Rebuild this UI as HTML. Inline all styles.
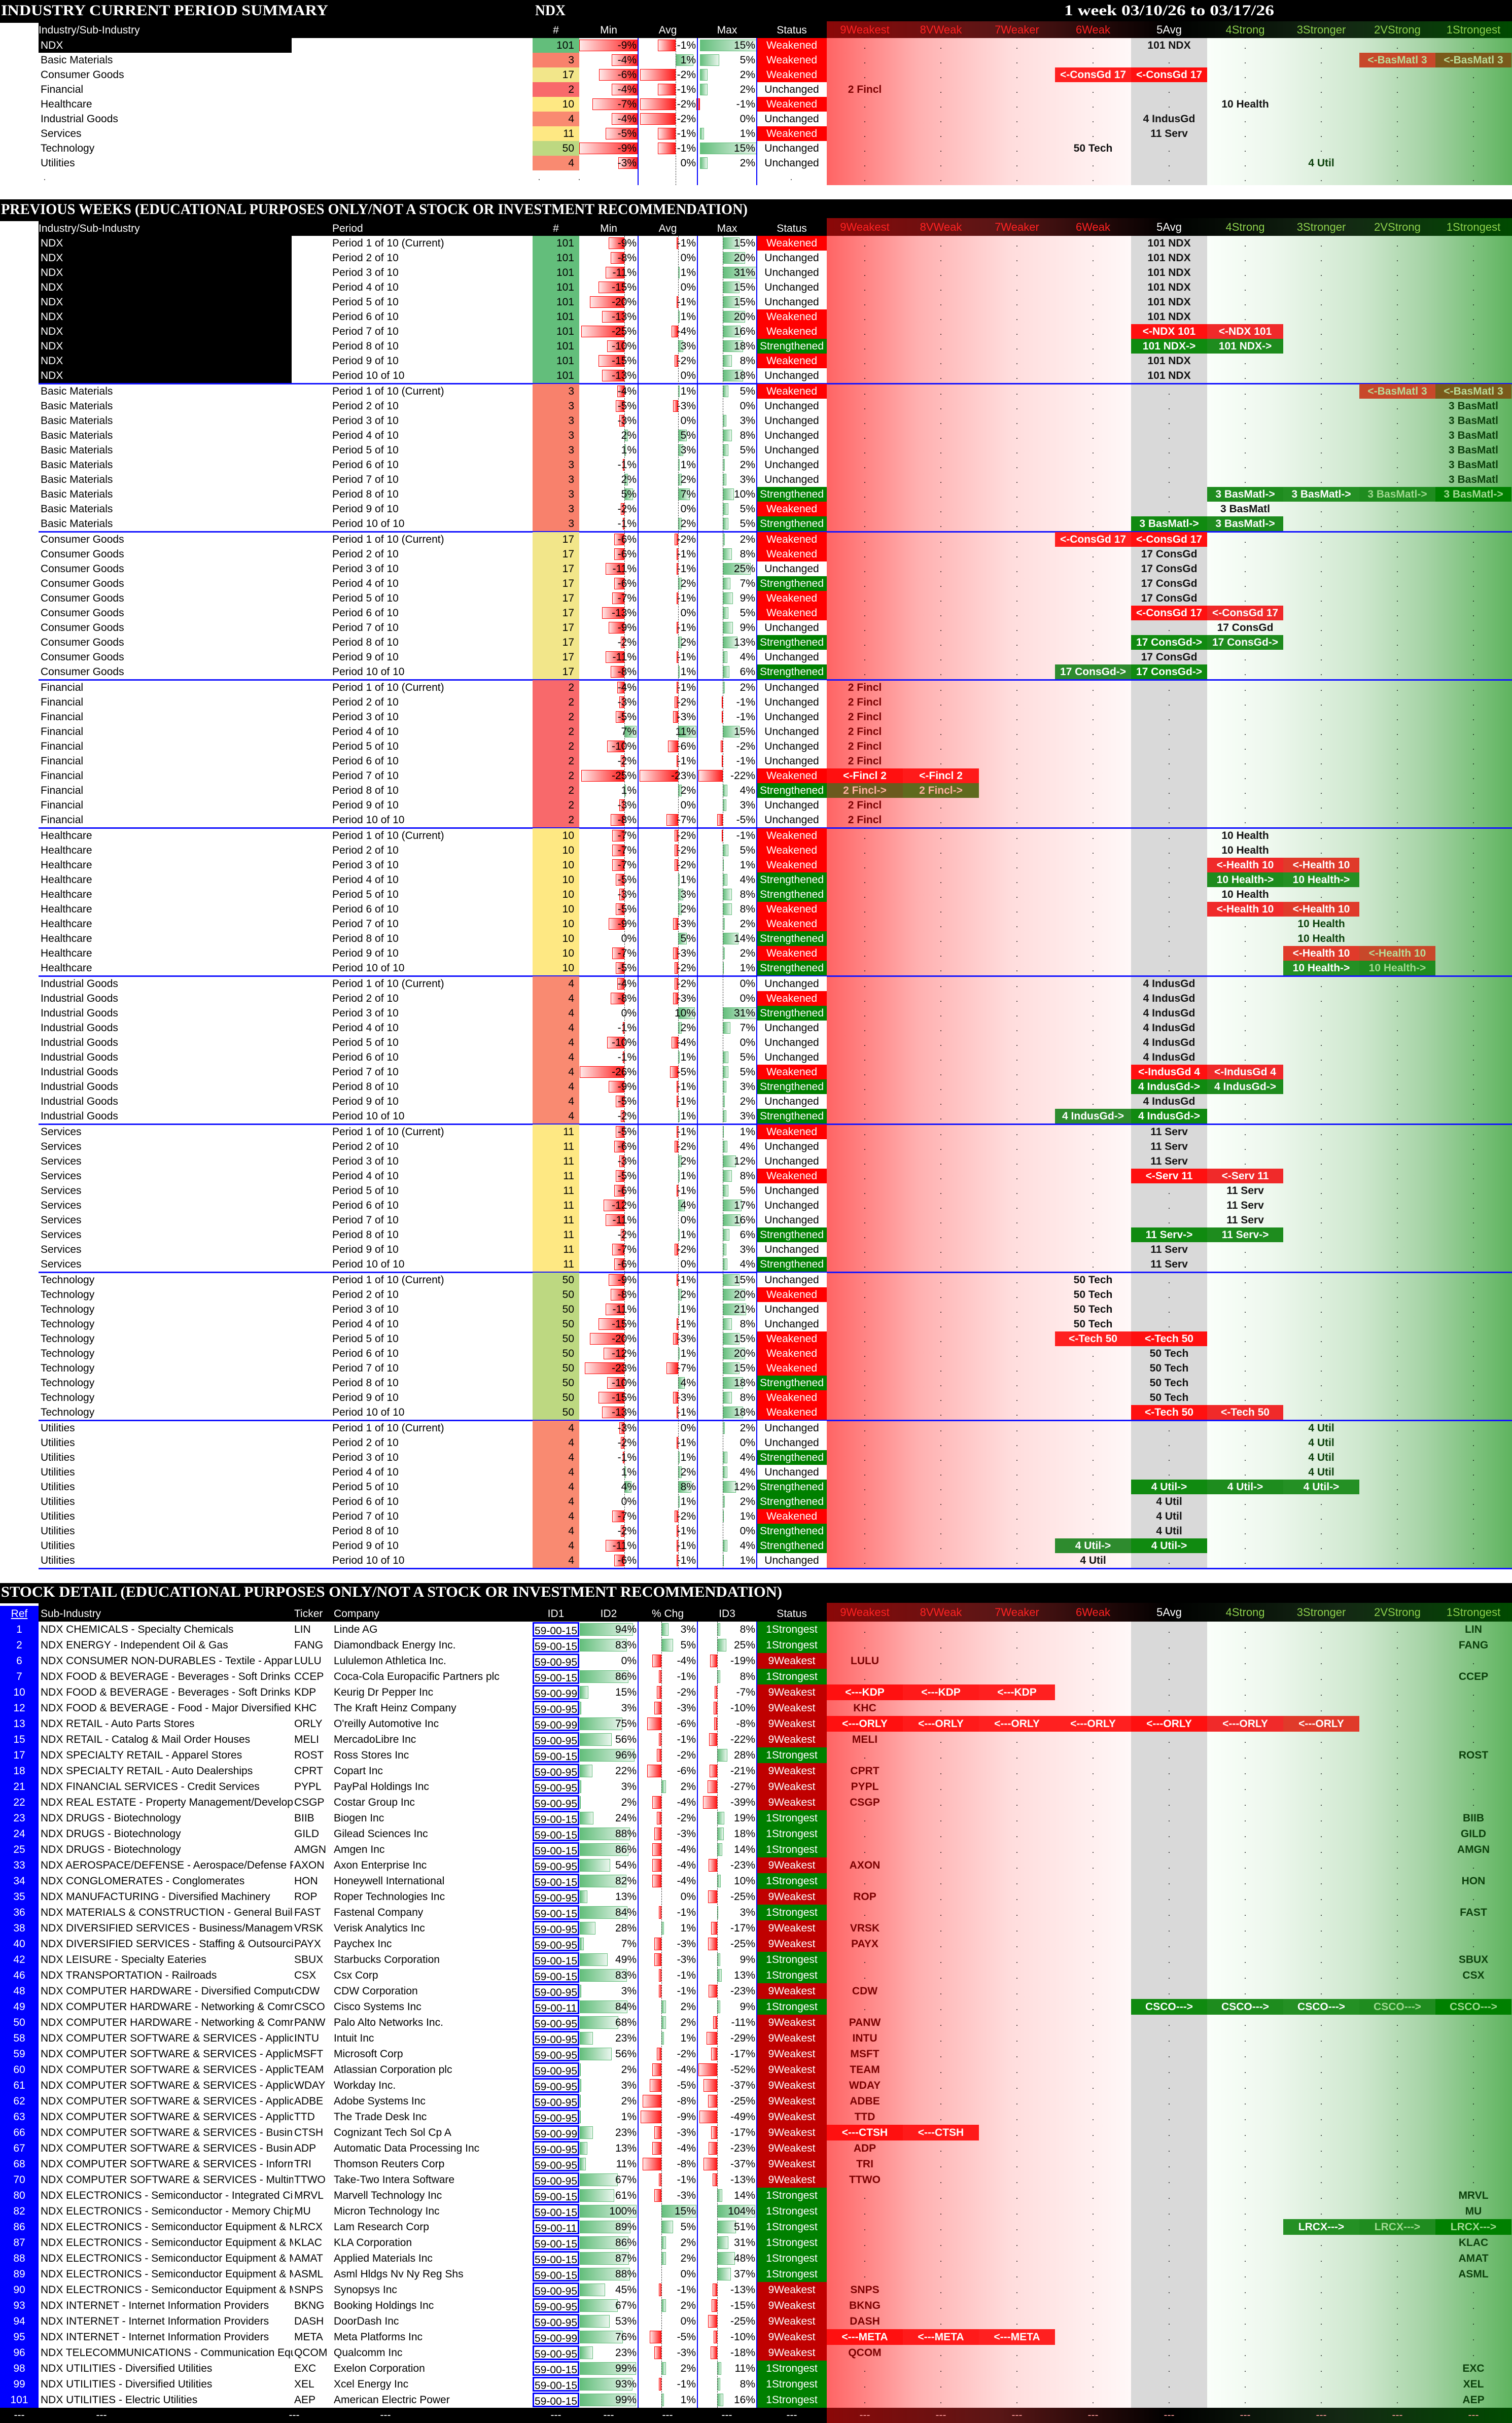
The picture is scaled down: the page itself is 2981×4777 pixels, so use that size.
<!DOCTYPE html>
<html><head><meta charset="utf-8">
<style>
html,body{margin:0;padding:0;background:#fff;}
#root{position:relative;width:2981px;height:4777px;overflow:hidden;background:#fff;font-family:"Liberation Sans Narrow","Liberation Sans",sans-serif;font-size:21px;color:#000;}
#root div{box-sizing:border-box;}
.title{position:absolute;font-family:"Liberation Serif",serif;font-weight:bold;color:#fff;font-size:30px;white-space:nowrap;transform-origin:0 50%;}
</style></head>
<body>
<div id="root">
  <div style="position:absolute;left:0;top:0;width:2981px;height:45px;background:#000"></div>
  <div style="position:absolute;left:76px;top:45px;width:1554px;height:30px;background:#000"></div>
  <div class="title" id="t1" style="left:2px;top:4px">INDUSTRY CURRENT PERIOD SUMMARY</div>
  <div class="title" id="t1b" style="left:1055px;top:4px">NDX</div>
  <div class="title" id="t1c" style="left:2098px;top:4px">1 week 03/10/26 to 03/17/26</div>

  <div style="position:absolute;left:0;top:393px;width:2981px;height:43px;background:#000"></div>
  <div style="position:absolute;left:76px;top:436px;width:1554px;height:29px;background:#000"></div>
  <div class="title" id="t2" style="left:2px;top:396px">PREVIOUS WEEKS (EDUCATIONAL PURPOSES ONLY/NOT A STOCK OR INVESTMENT RECOMMENDATION)</div>

  <div style="position:absolute;left:0;top:3121px;width:2981px;height:40px;background:#000"></div>
  <div style="position:absolute;left:76px;top:3160px;width:1554px;height:37px;background:#000"></div>
  <div class="title" id="t3" style="left:2px;top:3122px">STOCK DETAIL (EDUCATIONAL PURPOSES ONLY/NOT A STOCK OR INVESTMENT RECOMMENDATION)</div>
</div>
<script>
// ===== Section 2 / Summary data =====
const groupNames = ["NDX","Basic Materials","Consumer Goods","Financial","Healthcare","Industrial Goods","Services","Technology","Utilities"];
const groupShort = ["NDX","BasMatl","ConsGd","Fincl","Health","IndusGd","Serv","Tech","Util"];
const groupCounts = [101,3,17,2,10,4,11,50,4];
const countColors = ["#63be7b","#f8816c","#f2e68a","#f8696b","#fee883","#f98a71","#fee883","#bdd881","#f98a71"];
const minVals = [
 [-9,-8,-11,-15,-20,-13,-25,-10,-15,-13],
 [-4,-5,-3,2,1,-1,2,5,-2,-1],
 [-6,-6,-11,-6,-7,-13,-9,-2,-11,-8],
 [-4,-3,-5,7,-10,-2,-25,1,-3,-8],
 [-7,-7,-7,-5,-3,-5,-9,0,-7,-5],
 [-4,-8,0,-1,-10,-1,-26,-9,-5,-2],
 [-5,-6,-3,-5,-6,-12,-11,-2,-7,-6],
 [-9,-8,-11,-15,-20,-12,-23,-10,-15,-13],
 [-3,-2,-1,1,4,0,-7,-2,-11,-6]];
const avgVals = [
 [-1,0,1,0,-1,1,-4,3,-2,0],
 [1,-3,0,5,3,1,2,7,0,2],
 [-2,-1,-1,2,-1,0,-1,2,-1,1],
 [-1,-2,-3,11,-6,-1,-23,2,0,-7],
 [-2,-2,-2,1,3,2,-3,5,-3,-2],
 [-2,-3,10,2,-4,1,-5,-1,-1,1],
 [-1,-2,2,1,-1,4,0,1,-2,0],
 [-1,2,1,-1,-3,1,-7,4,-3,-1],
 [0,-1,1,2,8,1,-2,-1,-1,-1]];
const maxVals = [
 [15,20,31,15,15,20,16,18,8,18],
 [5,0,3,8,5,2,3,10,5,5],
 [2,8,25,7,9,5,9,13,4,6],
 [2,-1,-1,15,-2,-1,-22,4,3,-5],
 [-1,5,1,4,8,8,2,14,2,1],
 [0,0,31,7,0,5,5,3,2,3],
 [1,4,12,8,5,17,16,6,3,4],
 [15,20,21,8,15,20,15,18,8,18],
 [2,0,4,4,12,2,1,0,4,1]];
const statusVals = [
 "WUUUUWWSWU","WUUUUUUSWS","WWUSWWUSUS","UUUUUUWSUU","WWWSSWWSWS",
 "UWSUUUWSUS","WUUWUUUSUS","UWUUWWWSWW","UUSUSSWSSU"];
const positions = [
 [4,4,4,4,4,4,[4,5,'L'],[4,5,'R'],4,4],
 [[7,8,'L'],8,8,8,8,8,8,[5,8,'R'],5,[4,5,'R']],
 [[3,4,'L'],4,4,4,4,[4,5,'L'],5,[4,5,'R'],4,[3,4,'R']],
 [0,0,0,0,0,0,[0,1,'L'],[0,1,'R'],0,0],
 [5,5,[5,6,'L'],[5,6,'R'],5,[5,6,'L'],6,6,[6,7,'L'],[6,7,'R']],
 [4,4,4,4,4,4,[4,5,'L'],[4,5,'R'],4,[3,4,'R']],
 [4,4,4,[4,5,'L'],5,5,5,[4,5,'R'],4,4],
 [3,3,3,3,[3,4,'L'],4,4,4,4,[4,5,'L']],
 [6,6,6,6,[4,6,'R'],4,4,4,[3,4,'R'],3]];
const rankHeaders = ["9Weakest","8VWeak","7Weaker","6Weak","5Avg","4Strong","3Stronger","2VStrong","1Strongest"];

// ===== Stock detail data =====
const refs = [1,2,6,7,10,12,13,15,17,18,21,22,23,24,25,33,34,35,36,38,40,42,46,48,49,50,58,59,60,61,62,63,66,67,68,70,80,82,86,87,88,89,90,93,94,95,96,98,99,101];
const subInds = ["NDX CHEMICALS - Specialty Chemicals","NDX ENERGY - Independent Oil & Gas","NDX CONSUMER NON-DURABLES - Textile - Apparel Clothing","NDX FOOD & BEVERAGE - Beverages - Soft Drinks","NDX FOOD & BEVERAGE - Beverages - Soft Drinks","NDX FOOD & BEVERAGE - Food - Major Diversified","NDX RETAIL - Auto Parts Stores","NDX RETAIL - Catalog & Mail Order Houses","NDX SPECIALTY RETAIL - Apparel Stores","NDX SPECIALTY RETAIL - Auto Dealerships","NDX FINANCIAL SERVICES - Credit Services","NDX REAL ESTATE - Property Management/Development","NDX DRUGS - Biotechnology","NDX DRUGS - Biotechnology","NDX DRUGS - Biotechnology","NDX AEROSPACE/DEFENSE - Aerospace/Defense Products","NDX CONGLOMERATES - Conglomerates","NDX MANUFACTURING - Diversified Machinery","NDX MATERIALS & CONSTRUCTION - General Building Materials","NDX DIVERSIFIED SERVICES - Business/Management Services","NDX DIVERSIFIED SERVICES - Staffing & Outsourcing Services","NDX LEISURE - Specialty Eateries","NDX TRANSPORTATION - Railroads","NDX COMPUTER HARDWARE - Diversified Computer Systems","NDX COMPUTER HARDWARE - Networking & Communication","NDX COMPUTER HARDWARE - Networking & Communication","NDX COMPUTER SOFTWARE & SERVICES - Application Software","NDX COMPUTER SOFTWARE & SERVICES - Application Software","NDX COMPUTER SOFTWARE & SERVICES - Application Software","NDX COMPUTER SOFTWARE & SERVICES - Application Software","NDX COMPUTER SOFTWARE & SERVICES - Application Software","NDX COMPUTER SOFTWARE & SERVICES - Application Software","NDX COMPUTER SOFTWARE & SERVICES - Business Software","NDX COMPUTER SOFTWARE & SERVICES - Business Software","NDX COMPUTER SOFTWARE & SERVICES - Information","NDX COMPUTER SOFTWARE & SERVICES - Multimedia & Graphics","NDX ELECTRONICS - Semiconductor - Integrated Circuits","NDX ELECTRONICS - Semiconductor - Memory Chips","NDX ELECTRONICS - Semiconductor Equipment & Materials","NDX ELECTRONICS - Semiconductor Equipment & Materials","NDX ELECTRONICS - Semiconductor Equipment & Materials","NDX ELECTRONICS - Semiconductor Equipment & Materials","NDX ELECTRONICS - Semiconductor Equipment & Materials","NDX INTERNET - Internet Information Providers","NDX INTERNET - Internet Information Providers","NDX INTERNET - Internet Information Providers","NDX TELECOMMUNICATIONS - Communication Equipment","NDX UTILITIES - Diversified Utilities","NDX UTILITIES - Diversified Utilities","NDX UTILITIES - Electric Utilities"];
const tickers = ["LIN","FANG","LULU","CCEP","KDP","KHC","ORLY","MELI","ROST","CPRT","PYPL","CSGP","BIIB","GILD","AMGN","AXON","HON","ROP","FAST","VRSK","PAYX","SBUX","CSX","CDW","CSCO","PANW","INTU","MSFT","TEAM","WDAY","ADBE","TTD","CTSH","ADP","TRI","TTWO","MRVL","MU","LRCX","KLAC","AMAT","ASML","SNPS","BKNG","DASH","META","QCOM","EXC","XEL","AEP"];
const companies = ["Linde AG","Diamondback Energy Inc.","Lululemon Athletica Inc.","Coca-Cola Europacific Partners plc","Keurig Dr Pepper Inc","The Kraft Heinz Company","O'reilly Automotive Inc","MercadoLibre Inc","Ross Stores Inc","Copart Inc","PayPal Holdings Inc","Costar Group Inc","Biogen Inc","Gilead Sciences Inc","Amgen Inc","Axon Enterprise Inc","Honeywell International","Roper Technologies Inc","Fastenal Company","Verisk Analytics Inc","Paychex Inc","Starbucks Corporation","Csx Corp","CDW Corporation","Cisco Systems Inc","Palo Alto Networks Inc.","Intuit Inc","Microsoft Corp","Atlassian Corporation plc","Workday Inc.","Adobe Systems Inc","The Trade Desk Inc","Cognizant Tech Sol Cp A","Automatic Data Processing Inc","Thomson Reuters Corp","Take-Two Intera Software","Marvell Technology Inc","Micron Technology Inc","Lam Research Corp","KLA Corporation","Applied Materials Inc","Asml Hldgs Nv Ny Reg Shs","Synopsys Inc","Booking Holdings Inc","DoorDash Inc","Meta Platforms Inc","Qualcomm Inc","Exelon Corporation","Xcel Energy Inc","American Electric Power"];
const id1Codes = ["15","15","95","15","99","95","99","95","15","95","95","95","15","15","15","95","15","95","15","95","95","15","15","95","11","95","95","95","95","95","95","95","99","95","95","95","15","15","11","15","15","15","95","95","95","99","95","15","15","15"];
const id2Vals = [94,83,0,86,15,3,75,56,96,22,3,2,24,88,86,54,82,13,84,28,7,49,83,3,84,68,23,56,2,3,2,1,23,13,11,67,61,100,89,86,87,88,45,67,53,76,23,99,93,99];
const chgVals = [3,5,-4,-1,-2,-3,-6,-1,-2,-6,2,-4,-2,-3,-4,-4,-4,0,-1,1,-3,-3,-1,-1,2,2,1,-2,-4,-5,-8,-9,-3,-4,-8,-1,-3,15,5,2,2,0,-1,2,0,-5,-3,2,-1,1];
const id3Vals = [8,25,-19,8,-7,-10,-8,-22,28,-21,-27,-39,19,18,14,-23,10,-25,3,-17,-25,9,13,-23,9,-11,-29,-17,-52,-37,-25,-49,-17,-23,-37,-13,14,104,51,31,48,37,-13,-15,-25,-10,-18,11,8,16];
const stockStatus = "SSWSWWWWSWWWSSSWSWSWWSSWSWWWWWWWWWWWSSSSSSWWWWWSSS";
const stockMoves = {KDP:[0,2,'L'],ORLY:[0,6,'L'],CTSH:[0,1,'L'],META:[0,2,'L'],CSCO:[4,8,'R'],LRCX:[6,8,'R']};

// ===== rendering =====
const root = document.getElementById('root');
function mk(x,y,w,h,css,txt,name){
  const d=document.createElement('div');
  d.style.cssText='position:absolute;left:'+x+'px;top:'+y+'px;width:'+w+'px;height:'+h+'px;'+(css||'');
  if(txt!=null){d.textContent=txt;d.style.whiteSpace='nowrap';d.style.overflow='hidden';d.style.lineHeight=h+'px';}
  
  
  root.appendChild(d);
  return d;
}
const COLX=[1630,1780,1930,2080,2230,2380,2530,2680,2830];
const CW=150;
function fmt(v){return v+'%';}

function rightBg(y0,y1,tag){
  mk(1630,y0,600,y1-y0,'background:linear-gradient(to right,#ff6464,#ffb0b0 30%,#ffdcdc 60%,#fff8f8);',null,tag+'-weak-zone');
  mk(2230,y0,150,y1-y0,'background:#d9d9d9;',null,tag+'-avg-zone');
  mk(2380,y0,601,y1-y0,'background:linear-gradient(to right,#fafffa,#edf7ed 22%,#cfe8cf 50%,#a5d3a5 72%,#5fb45f);',null,tag+'-strong-zone');
}
function rankHeader(y,h,tag){
  mk(1630,y,1351,h,'background:linear-gradient(to right,#8b0808,#5a1616 25%,#000 50%,#142814 75%,#004a00);',null,tag+'-rank-header');
  for(let c=0;c<9;c++){
    const col=c<4?'#ff2222':(c==4?'#fff':'#8ccf4c');
    mk(COLX[c],y,CW,h,'text-align:center;color:'+col+';font-size:22px;',rankHeaders[c],tag+'-rank-'+rankHeaders[c].toLowerCase());
  }
}
function plainColor(c){return c<=2?'#7a0000':(c<=5?'#111':'#0b400b');}
function moveCell(c,y,h,dir,text,tag){
  const red=['#ff1010','#ff1a1a','#ff2020','#ff2020','#ff1010','#f02a2a','#e03a2a','#c8482a','#7a5a1a'];
  const grn=['#6b5a1e','#5f6a1e','#2f8a2a','#2e8b2e','#108a10','#1e8c1e','#249024','#1f8c1f','#008000'];
  const bg=dir=='L'?red[c]:grn[c];
  let tc='#fff';
  if(dir=='L'&&c>=7) tc='#b8dc98';
  if(dir=='R'&&c<=1) tc='#ffb0a0';
  if(dir=='R'&&c>=7) tc='#a0d890';
  mk(COLX[c],y,CW,h,'background:'+bg+';color:'+tc+';text-align:center;font-weight:bold;',text,tag);
}
function drawPos(y,h,pos,plain,leftT,rightT,tag){
  let filled=new Array(9).fill(false);
  if(Array.isArray(pos)){
    for(let c=pos[0];c<=pos[1];c++){moveCell(c,y,h,pos[2],pos[2]=='L'?leftT:rightT,tag+'-move-cell');filled[c]=true;}
  } else if(pos!=null){
    mk(COLX[pos],y,CW,h,'text-align:center;font-weight:bold;color:'+plainColor(pos)+';',plain,tag+'-position-label');
    filled[pos]=true;
  }
  for(let c=0;c<9;c++) if(!filled[c]) mk(COLX[c],y+2,CW,h,'text-align:center;font-size:16px;',' .',tag+'-empty-dot');
}
function hbar(axis,scale,v,y,h,name){
  if(v==0) return;
  const w=Math.abs(v)*scale;
  if(v<0) mk(axis-w,y+3,w,h-6,'background:linear-gradient(to right,#ffe8e8,#ff1a1a);border:1px solid #ff0000;',null,name);
  else mk(axis,y+3,w,h-6,'background:linear-gradient(to right,#63be7b,#eaf6ee);border:1px solid #63be7b;',null,name);
}
function statusCell(y,h,s,tag){
  const map={W:['Weakened','#ff0000','#fff'],S:['Strengthened','#008000','#fff'],U:['Unchanged','#fff','#000']};
  const m=map[s];
  mk(1492,y,138,h,'background:'+m[1]+';color:'+m[2]+';text-align:center;',m[0],tag);
}
function vlines(y0,y1,xs,tag){for(const x of xs) mk(x-1,y0,2,y1-y0,'background:#0000ff;',null,tag+'-column-divider');}
function dashed(y0,y1,xs,tag){for(const x of xs) mk(x,y0,1,y1-y0,'border-left:1px dashed #444;',null,tag+'-axis-line');}

// ---- Summary section ----
rankHeader(42,33,'summary');
const hdrs=[['#',1050,92],['Min',1142,116],['Avg',1258,117],['Max',1375,117],['Status',1492,138]];
mk(76,45,400,30,'color:#fff;','Industry/Sub-Industry','summary-header-industry');
for(const hd of hdrs) mk(hd[1],45,hd[2],30,'color:#fff;text-align:center;',hd[0],'summary-header-'+hd[0].toLowerCase());
rightBg(75,365,'summary');
for(let g=0;g<9;g++){
  const y=75+g*29, h=29;
  if(g==0) mk(76,y,499,h,'background:#000;',null,'summary-ndx-label-bg');
  mk(80,y,490,h,'color:'+(g==0?'#fff':'#000')+';',groupNames[g],'summary-industry-name');
  mk(1050,y,92,h,'background:'+countColors[g]+';text-align:right;padding-right:10px;',String(groupCounts[g]),'summary-count');
  hbar(1258,12.9,minVals[g][0],y,h,'summary-min-bar');
  hbar(1332,35,avgVals[g][0],y,h,'summary-avg-bar');
  hbar(1380,7.5,maxVals[g][0],y,h,'summary-max-bar');
  mk(1142,y,113,h,'text-align:right;',fmt(minVals[g][0]),'summary-min-value');
  mk(1258,y,114,h,'text-align:right;',fmt(avgVals[g][0]),'summary-avg-value');
  mk(1375,y,114,h,'text-align:right;',fmt(maxVals[g][0]),'summary-max-value');
  statusCell(y,h,statusVals[g][0],'summary-status');
  const n=groupCounts[g], s=groupShort[g];
  drawPos(y,h,positions[g][0],n+' '+s,'<-'+s+' '+n,n+' '+s+'->','summary-'+s.toLowerCase());
}
for(const x of [88,1063,1142,1258,1375,1560]) mk(x-10,336,20,29,'text-align:center;font-size:16px;','.','summary-spacer-dot');
drawPos(336,29,null,'','','','summary-spacer');
dashed(75,365,[1332],'summary');
vlines(75,365,[1258,1375,1492],'summary');

// ---- Previous weeks section ----
rankHeader(430,35,'weeks');
mk(76,436,400,29,'color:#fff;','Industry/Sub-Industry','weeks-header-industry');
mk(655,436,200,29,'color:#fff;','Period','weeks-header-period');
for(const hd of hdrs) mk(hd[1],436,hd[2],29,'color:#fff;text-align:center;',hd[0],'weeks-header-'+hd[0].toLowerCase());
rightBg(465,3093,'weeks');
for(let g=0;g<9;g++){
  const gy=465+g*292;
  if(g==0) mk(76,gy,499,290,'background:#000;',null,'weeks-ndx-label-bg');
  mk(1050,gy,92,290,'background:'+countColors[g]+';',null,'weeks-count-bg');
  for(let r=0;r<10;r++){
    const y=gy+r*29, h=29;
    mk(80,y,490,h,'color:'+(g==0?'#fff':'#000')+';',groupNames[g],'weeks-industry-name');
    mk(655,y,300,h,'',r==0?'Period 1 of 10 (Current)':'Period '+(r+1)+' of 10','weeks-period-label');
    mk(1050,y,92,h,'text-align:right;padding-right:10px;',String(groupCounts[g]),'weeks-count');
    hbar(1231,3.4,minVals[g][r],y,h,'weeks-min-bar');
    hbar(1337,3.3,avgVals[g][r],y,h,'weeks-avg-bar');
    hbar(1425,2.2,maxVals[g][r],y,h,'weeks-max-bar');
    mk(1142,y,113,h,'text-align:right;',fmt(minVals[g][r]),'weeks-min-value');
    mk(1258,y,114,h,'text-align:right;',fmt(avgVals[g][r]),'weeks-avg-value');
    mk(1375,y,114,h,'text-align:right;',fmt(maxVals[g][r]),'weeks-max-value');
    statusCell(y,h,statusVals[g][r],'weeks-status');
    const n=groupCounts[g], s=groupShort[g];
    drawPos(y,h,positions[g][r],n+' '+s,'<-'+s+' '+n,n+' '+s+'->','weeks-'+s.toLowerCase());
  }
  mk(76,gy+290,2905,3,'background:#1414ff;',null,'weeks-group-separator');
}
dashed(465,3093,[1231,1337,1425],'weeks');
vlines(465,3093,[1258,1375,1492],'weeks');

// ---- Stock detail section ----
rankHeader(3160,37,'stocks');
mk(0,3166,76,1581,'background:#0000ff;',null,'stocks-ref-column-bg');
mk(0,3166,76,31,'color:#fff;text-align:center;text-decoration:underline;','Ref','stocks-header-ref');
mk(76,3166,400,31,'color:#fff;padding-left:4px;','Sub-Industry','stocks-header-subindustry');
mk(580,3166,75,31,'color:#fff;','Ticker','stocks-header-ticker');
mk(658,3166,300,31,'color:#fff;','Company','stocks-header-company');
const h3=[['ID1',1050,92],['ID2',1142,116],['% Chg',1258,117],['ID3',1375,117],['Status',1492,138]];
for(const hd of h3) mk(hd[1],3166,hd[2],31,'color:#fff;text-align:center;',hd[0],'stocks-header-'+hd[0].toLowerCase().replace(/[^a-z0-9]/g,''));
rightBg(3197,4747,'stocks');
for(let i=0;i<refs.length;i++){
  const y=3197+i*31, h=31;
  mk(0,y,76,h,'color:#fff;text-align:center;',String(refs[i]),'stock-ref');
  mk(80,y,498,h,'',subInds[i],'stock-subindustry');
  mk(580,y,76,h,'',tickers[i],'stock-ticker');
  mk(658,y,390,h,'',companies[i],'stock-company');
  mk(1050,y+1,92,h-2,'border:3px solid #0000ff;text-align:center;line-height:'+(h-8)+'px;','59-00-'+id1Codes[i],'stock-id1');
  if(id2Vals[i]>0) mk(1143,y+3,id2Vals[i]*1.12,h-6,'background:linear-gradient(to right,#63be7b,#eaf6ee);border:1px solid #63be7b;',null,'stock-id2-bar');
  hbar(1304,4.6,chgVals[i],y,h,'stock-chg-bar');
  hbar(1414,0.72,id3Vals[i],y,h,'stock-id3-bar');
  mk(1142,y,113,h,'text-align:right;',fmt(id2Vals[i]),'stock-id2-value');
  mk(1258,y,114,h,'text-align:right;',fmt(chgVals[i]),'stock-chg-value');
  mk(1375,y,114,h,'text-align:right;',fmt(id3Vals[i]),'stock-id3-value');
  const st=stockStatus[i];
  mk(1492,y,138,h,'background:'+(st=='S'?'#008000':'#c00000')+';color:#fff;text-align:center;',st=='S'?'1Strongest':'9Weakest','stock-status');
  const t=tickers[i];
  const mv=stockMoves[t];
  drawPos(y,h,mv?mv:(st=='S'?8:0),t,'<---'+t,t+'--->','stock-'+t.toLowerCase());
}
dashed(3197,4747,[1304,1414],'stocks');
vlines(3197,4747,[1258,1375,1492],'stocks');
mk(0,4747,1630,30,'background:#000;',null,'stocks-footer-bar');
mk(1630,4747,1351,30,'background:linear-gradient(to right,#8b0808,#5a1616 25%,#000 50%,#142814 75%,#004a00);',null,'stocks-footer-rank');
for(const x of [38,200,580,760,1096,1200,1316,1433,1561]) mk(x-30,4747,60,30,'color:#fff;text-align:center;','---','stocks-footer-dash');
for(let c=0;c<9;c++) mk(COLX[c],4747,CW,30,'color:#ff9a9a;text-align:center;','---','stocks-footer-rank-dash');

const fits=[['t1',645],['t1b',60],['t1c',414],['t2',1472],['t3',1540]];
for(const f of fits){const e=document.getElementById(f[0]);const w=e.getBoundingClientRect().width;if(w>0)e.style.transform='scaleX('+(f[1]/w)+')';}
</script>
</body></html>
